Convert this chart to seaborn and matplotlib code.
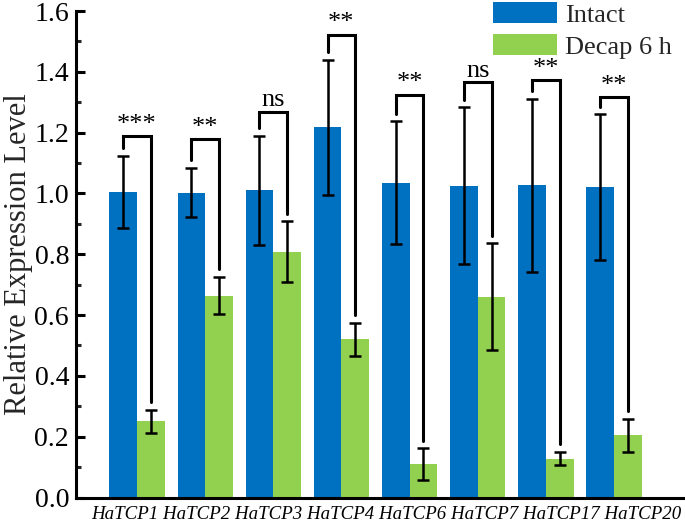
import numpy as np
import pandas as pd
import matplotlib
matplotlib.use("Agg")
import matplotlib.pyplot as plt
from matplotlib.ticker import MultipleLocator, AutoMinorLocator
import seaborn as sns

genes = ["HaTCP1", "HaTCP2", "HaTCP3", "HaTCP4", "HaTCP6", "HaTCP7", "HaTCP17", "HaTCP20"]
groups = ["Intact", "Decap 6 h"]
intact = [1.005, 1.003, 1.010, 1.218, 1.035, 1.025, 1.027, 1.020]
intact_sd = [0.118, 0.082, 0.180, 0.222, 0.202, 0.258, 0.285, 0.240]
decap = [0.250, 0.664, 0.808, 0.520, 0.110, 0.660, 0.128, 0.204]
decap_sd = [0.038, 0.062, 0.100, 0.055, 0.052, 0.176, 0.022, 0.055]
signif = ["***", "**", "ns", "**", "**", "ns", "**", "**"]
bracket_y = [1.188, 1.178, 1.268, 1.522, 1.325, 1.365, 1.372, 1.316]
colors = ["#0070C0", "#92D050"]

df = pd.DataFrame({
    "gene": genes * 2,
    "group": [groups[0]] * len(genes) + [groups[1]] * len(genes),
    "value": intact + decap,
    "sd": intact_sd + decap_sd,
})

sns.set_theme(style="ticks")
plt.rcParams["font.family"] = ["Liberation Serif", "DejaVu Serif"]

fig = plt.figure(figsize=(6.85, 5.22), dpi=100)
ax = fig.add_axes([76 / 685, 1 - 497.5 / 522, 1 - 76 / 685, (497.5 - 11) / 522])

sns.barplot(data=df, x="gene", y="value", hue="group", order=genes, hue_order=groups,
            palette=colors, width=0.81, errorbar=None, saturation=1, linewidth=0, ax=ax)

# error bars from bar positions
bar_containers = list(ax.containers)
centers = {}
for gi, cont in enumerate(bar_containers):
    vals = intact if gi == 0 else decap
    sds = intact_sd if gi == 0 else decap_sd
    xs = [p.get_x() + p.get_width() / 2 for p in cont.patches]
    centers[gi] = xs
    ax.errorbar(xs, vals, yerr=sds, fmt="none", ecolor="black", elinewidth=1.8,
                capsize=4.5, capthick=1.8, zorder=5)

gap = 0.025
for i in range(len(genes)):
    x1, x2 = centers[0][i], centers[1][i]
    y1 = intact[i] + intact_sd[i] + gap
    y2 = decap[i] + decap_sd[i] + gap
    by = bracket_y[i]
    ax.plot([x1, x1, x2, x2], [y1, by, by, y2], color="black", lw=2.2,
            solid_joinstyle="miter", zorder=6)
    ax.text((x1 + x2) / 2, by + 0.002, signif[i], ha="center", va="bottom",
            fontsize=19, color="black")

ax.set_ylim(0, 1.6)
ax.set_xlim(-0.894, 8.04)
ax.yaxis.set_major_locator(MultipleLocator(0.2))
ax.yaxis.set_minor_locator(AutoMinorLocator(2))
ax.set_yticks(np.arange(0, 1.61, 0.2))
ax.set_yticklabels([f"{v:.1f}" for v in np.arange(0, 1.61, 0.2)])
ax.tick_params(axis="y", which="major", direction="in", length=6.5, width=2.2,
               labelsize=20, pad=5, colors="black")
ax.tick_params(axis="y", which="minor", direction="in", length=3.8, width=2.2)
ax.tick_params(axis="x", length=0, labelbottom=False)
ax.set_xlabel("")
ax.set_ylabel("Relative Expression Level", fontsize=22, labelpad=1)

# category labels as one spaced line, as in the original figure
fig.text(386 / 685, 1 - 519 / 522, " ".join(genes), ha="center", va="baseline",
         fontsize=13.6, fontstyle="italic", color="black")

for s in ["top", "right"]:
    ax.spines[s].set_visible(False)
for s in ["left", "bottom"]:
    ax.spines[s].set_linewidth(2.2)
    ax.spines[s].set_color("black")

ax.legend(loc="upper left", bbox_to_anchor=(493 / 685, 1 - 2 / 522),
          bbox_transform=fig.transFigure, frameon=False, fontsize=19,
          handlelength=2.42, handleheight=0.83, labelspacing=0.3,
          handletextpad=0.3, borderpad=0, borderaxespad=0)

fig.savefig("out.png", dpi=100)
